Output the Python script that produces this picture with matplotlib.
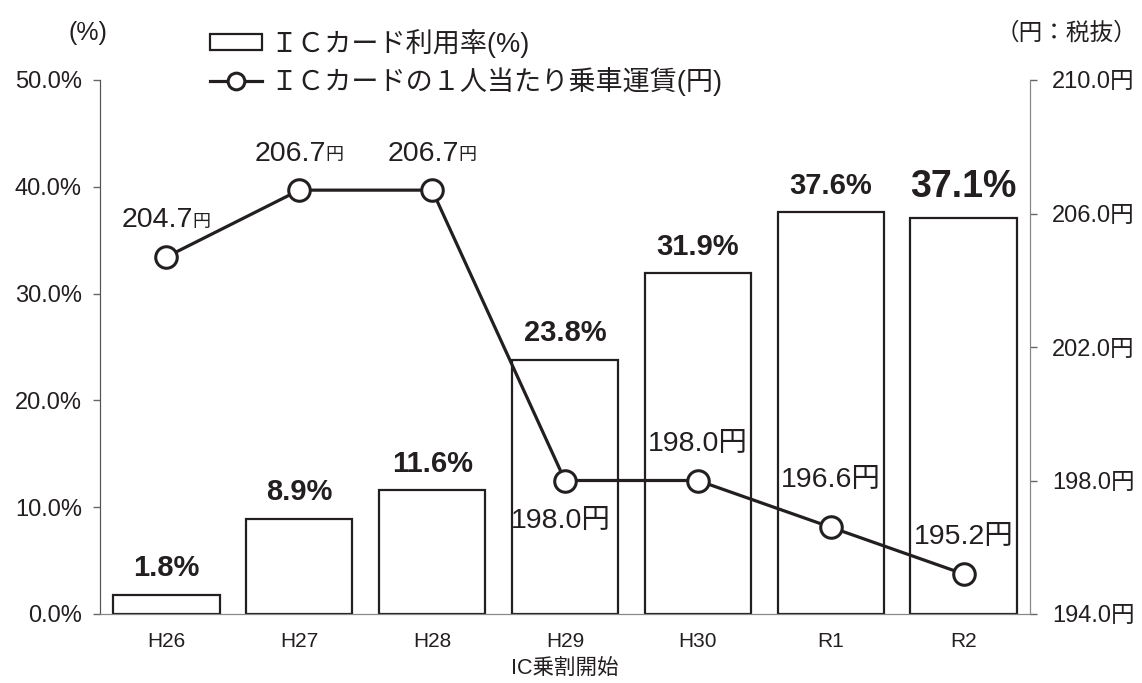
import matplotlib
matplotlib.use("Agg")
import matplotlib.pyplot as plt
from matplotlib.patches import Rectangle
from matplotlib.lines import Line2D
import numpy as np

plt.rcParams['font.family'] = ['Liberation Sans', 'Noto Sans CJK JP']

years = ["H26", "H27", "H28", "H29", "H30", "R1", "R2"]
ic_rate = [1.8, 8.9, 11.6, 23.8, 31.9, 37.6, 37.1]
fare = [204.7, 206.7, 206.7, 198.0, 198.0, 196.6, 195.2]
left_ticks = [0, 10, 20, 30, 40, 50]
right_ticks = [194, 198, 202, 206, 210]

INK = "#231f20"

fig = plt.figure(figsize=(11.42, 6.83), dpi=100)
ax = fig.add_axes([100 / 1142, 1 - 614 / 683, 930 / 1142, 534 / 683])
ax2 = ax.twinx()

x = np.arange(len(years))
ax.bar(x, ic_rate, width=0.8, facecolor="white", edgecolor=INK, linewidth=1.6, zorder=2)
ax.set_xlim(-0.5, len(years) - 0.5)
ax.set_ylim(0, 50)
ax.set_yticks(left_ticks)
ax.set_yticklabels([f"{v:.1f}%" for v in left_ticks])
ax.set_xticks(x)
ax.set_xticklabels(years)
ax.tick_params(axis="x", length=0, pad=13, labelsize=15, colors=INK)
ax.tick_params(axis="y", length=5, width=1, color="#666666", labelsize=17, labelcolor=INK, pad=8)

# percent labels above the bars, the last one larger
for i, v in enumerate(ic_rate):
    big = (i == len(ic_rate) - 1)
    ax.annotate(f"{v:.1f}%", (x[i], v), xytext=(0, 9), textcoords="offset points",
                ha="center", va="bottom", fontweight="bold",
                fontsize=27 if big else 21, color=INK)

ax2.plot(x, fare, color=INK, linewidth=2.3, marker="o", markersize=15.5,
         markerfacecolor="white", markeredgecolor=INK, markeredgewidth=2.2, zorder=5)
ax2.set_ylim(194, 210)
ax2.set_yticks(right_ticks)
ax2.set_yticklabels([f"{v:.1f}円" for v in right_ticks])
ax2.tick_params(axis="y", length=5, width=1, color="#666666", labelsize=17, labelcolor=INK, pad=11)

# label offsets in points: (dx, dy), negative dy = below the point
label_offsets = [(0, 17), (0, 17), (0, 17), (-3, -20), (0, 17), (0, 25), (0, 17)]
for i, v in enumerate(fare):
    dx, dy = label_offsets[i]
    va = "bottom" if dy > 0 else "top"
    if i < 3:
        # number plus a small 円, as in the original
        ax2.annotate(f"{v:.1f}", (x[i], v), xytext=(dx + 19, dy), textcoords="offset points",
                     ha="right", va=va, fontsize=20.5, color=INK)
        ax2.annotate("円", (x[i], v), xytext=(dx + 19, dy + 1.5), textcoords="offset points",
                     ha="left", va=va, fontsize=13, color=INK)
    else:
        ax2.annotate(f"{v:.1f}円", (x[i], v), xytext=(dx, dy), textcoords="offset points",
                     ha="center", va=va, fontsize=20.5, color=INK)

for a in (ax, ax2):
    a.spines["top"].set_visible(False)
    a.spines["left"].set_color("#555555")
    a.spines["right"].set_color("#888888")
    a.spines["bottom"].set_color("#888888")
ax.set_zorder(1)
ax2.set_zorder(2)
ax2.patch.set_visible(False)

ax.text(3, -0.103, "IC乗割開始", transform=ax.get_xaxis_transform(),
        ha="center", va="center", fontsize=15.5, color=INK)

fig.text(88 / 1142, 1 - 33 / 683, "(%)", ha="center", va="center", fontsize=18, color=INK)
fig.text(1066 / 1142, 1 - 33 / 683, "（円：税抜）", ha="center", va="center", fontsize=17, color=INK)

handles = [Rectangle((0, 0), 1, 1, facecolor="white", edgecolor=INK, linewidth=1.6),
           Line2D([], [], color=INK, linewidth=2.3, marker="o", markersize=12,
                  markerfacecolor="white", markeredgecolor=INK, markeredgewidth=2.2)]
labels = ["ＩＣカード利用率(%)", "ＩＣカードの１人当たり乗車運賃(円)"]
fig.legend(handles, labels, loc="upper left", bbox_to_anchor=(196 / 1142, 1 - 15 / 683),
           frameon=False, fontsize=19.5, handlelength=1.95, handleheight=0.5,
           handletextpad=0.3, labelspacing=0.35, borderpad=0, labelcolor=INK)

fig.savefig("out.png", dpi=100)
